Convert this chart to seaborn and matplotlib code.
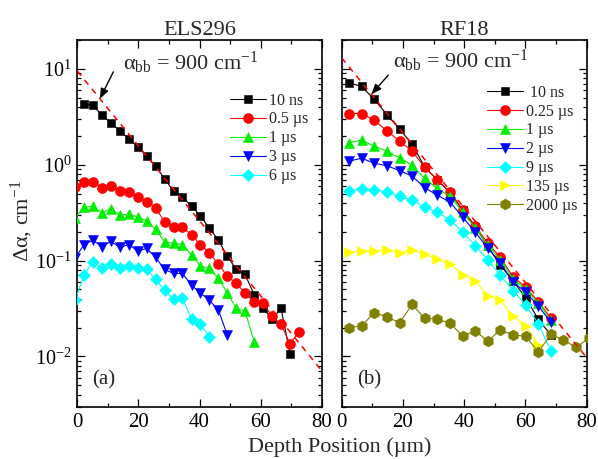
import numpy as np
import pandas as pd
import seaborn as sns
import matplotlib
matplotlib.use("Agg")
import matplotlib.pyplot as plt
from matplotlib.ticker import LogLocator, MultipleLocator, NullFormatter

# ---------------- data ----------------
# depth grid (um) of the ELS296 scan
els_x = [-0.7, 2.2, 5.1, 8.1, 11.0, 13.9, 16.9, 19.8, 22.7, 25.6, 28.6, 31.5, 34.4,
         37.4, 40.3, 43.2, 46.2, 49.1, 52.0, 54.9, 57.9, 60.8, 63.7, 66.7, 69.6, 72.5]

els_10ns = [4.27, 4.17, 3.28, 2.73, 2.24, 1.87, 1.53, 1.23, 0.965, 0.711, 0.529, 0.455,
            0.372, 0.290, 0.219, 0.163, 0.111, 0.0813, 0.0716, 0.0441, 0.0321, 0.0245,
            0.0316, 0.0107]
els_05us = [0.587, 0.657, 0.657, 0.573, 0.597, 0.529, 0.513, 0.462, 0.413, 0.355, 0.253,
            0.225, 0.225, 0.184, 0.147, 0.121, 0.0917, 0.0688, 0.0577, 0.046, 0.0368,
            0.0362, 0.0263, 0.0217, 0.0136, 0.0178]
els_1us = [0.280, 0.358, 0.369, 0.314, 0.349, 0.297, 0.305, 0.284, 0.259, 0.211, 0.157,
           0.151, 0.147, 0.114, 0.0874, 0.0827, 0.0651, 0.046, 0.0317, 0.0297, 0.0142]
els_3us = [0.106, 0.147, 0.163, 0.139, 0.159, 0.137, 0.147, 0.125, 0.134, 0.108, 0.0807,
           0.0734, 0.0734, 0.0554, 0.0457, 0.0386, 0.0304, 0.0167]
els_6us = [0.0386, 0.0704, 0.0974, 0.0827, 0.0917, 0.0827, 0.0874, 0.0827, 0.0813, 0.064,
           0.0491, 0.0393, 0.0403, 0.0245, 0.0217, 0.016]

# depth grid (um) of the RF18 scan
rf_x = [2.4, 6.5, 10.6, 14.8, 18.9, 23.0, 27.1, 31.2, 35.4, 39.5, 43.6, 47.7, 51.8,
        56.0, 60.1, 64.2, 68.3, 72.4, 76.6, 80.7]

rf_10ns = [7.16, 6.55, 4.82, 3.32, 2.35, 1.64, 0.942, 0.697, 0.507, 0.335, 0.225, 0.141,
           0.0895, 0.061, 0.0409, 0.0243, 0.0167]
rf_025us = [3.42, 3.42, 2.91, 2.25, 1.77, 1.38, 0.942, 0.698, 0.517, 0.340, 0.229, 0.152,
            0.108, 0.0671, 0.0528, 0.0373, 0.0251]
rf_1us = [1.70, 1.80, 1.56, 1.38, 1.18, 0.988, 0.718, 0.565, 0.469, 0.320, 0.218, 0.145,
          0.101, 0.064, 0.0503, 0.0360, 0.0239]
rf_2us = [1.088, 1.17, 1.036, 0.976, 0.866, 0.759, 0.575, 0.481, 0.406, 0.284, 0.198,
          0.135, 0.094, 0.0595, 0.0468, 0.0335, 0.0228]
rf_9us = [0.535, 0.559, 0.548, 0.520, 0.469, 0.426, 0.360, 0.320, 0.264, 0.200, 0.143,
          0.1016, 0.0704, 0.0485, 0.0343, 0.0219, 0.0114]
rf_135us = [0.123, 0.125, 0.126, 0.130, 0.121, 0.130, 0.116, 0.1026, 0.0917, 0.0713,
            0.061, 0.0431, 0.0384, 0.0261, 0.0207, 0.0132]
rf_2000us = [0.0199, 0.0208, 0.0285, 0.0259, 0.0224, 0.0348, 0.0249, 0.0245, 0.0221,
             0.0163, 0.0185, 0.0144, 0.0189, 0.0167, 0.0162, 0.0111, 0.0170, 0.0148,
             0.0124, 0.0155]

# band-to-band absorption fit: A * exp(-alpha_bb * depth)
alpha_bb = 900.0          # cm^-1
fit_amp_els = 9.5
fit_amp_rf = 13.0

els_series = [
    ("10 ns", els_x[1:1 + len(els_10ns)], els_10ns, "black", "s"),
    ("0.5 \u00b5s", els_x[:len(els_05us)], els_05us, "#ff0000", "o"),
    ("1 \u00b5s", els_x[:len(els_1us)], els_1us, "#00ee00", "^"),
    ("3 \u00b5s", els_x[:len(els_3us)], els_3us, "#0000ff", "v"),
    ("6 \u00b5s", els_x[:len(els_6us)], els_6us, "#00ffff", "D"),
]
rf_series = [
    (" 10 ns", rf_x[:len(rf_10ns)], rf_10ns, "black", "s"),
    ("0.25 \u00b5s", rf_x[:len(rf_025us)], rf_025us, "#ff0000", "o"),
    ("1 \u00b5s", rf_x[:len(rf_1us)], rf_1us, "#00ee00", "^"),
    ("2 \u00b5s", rf_x[:len(rf_2us)], rf_2us, "#0000ff", "v"),
    ("9 \u00b5s", rf_x[:len(rf_9us)], rf_9us, "#00ffff", "D"),
    ("135 \u00b5s", rf_x[:len(rf_135us)], rf_135us, "#ffff00", ">"),
    ("2000 \u00b5s", rf_x[:len(rf_2000us)], rf_2000us, "#808000", "h"),
]
marker_size = {"s": 6.3, "o": 7.2, "^": 7.6, "v": 7.6, "D": 6.6, ">": 7.6, "h": 7.8}

# ---------------- style ----------------
sns.set_theme(style="white")
plt.rcParams['font.family'] = ['Liberation Serif', 'DejaVu Serif']
plt.rcParams['mathtext.fontset'] = 'custom'
plt.rcParams['mathtext.rm'] = 'Liberation Serif'
plt.rcParams['mathtext.it'] = 'Liberation Serif:italic'
plt.rcParams['mathtext.bf'] = 'Liberation Serif:bold'

fig = plt.figure(figsize=(5.98, 4.59), dpi=100)
W, H = 598.0, 459.0
bottom_px, top_px = 406.5, 40.0
axL = fig.add_axes([77.3 / W, 1 - bottom_px / H, 244.4 / W, (bottom_px - top_px) / H])
axR = fig.add_axes([341.7 / W, 1 - bottom_px / H, 245.0 / W, (bottom_px - top_px) / H])


def fit_curve(amp, depth_um):
    return amp * np.exp(-alpha_bb * np.asarray(depth_um) * 1e-4)


def draw_panel(ax, series, amp, title, tag, leg_anchor, arrow_tail, arrow_x, text_xy):
    ax.set_yscale("log")
    depth = np.linspace(0, 80, 200)
    ax.plot(depth, fit_curve(amp, depth), color="#ff0000", lw=1.1,
            dashes=(4, 3.5), zorder=4, label="_nolegend_")
    for lab, xs, ys, col, mk in series:
        df = pd.DataFrame({"depth": xs, "da": ys})
        sns.lineplot(data=df, x="depth", y="da", ax=ax, color=col, marker=mk,
                     markersize=marker_size[mk], markeredgecolor=col,
                     markeredgewidth=0.4, linewidth=0.8, label=lab,
                     estimator=None, sort=False, zorder=3)
    ax.set_xlim(0, 80)
    ax.set_ylim(0.003, 20)
    ax.set_xlabel("")
    ax.set_ylabel("")
    ax.xaxis.set_major_locator(MultipleLocator(20))
    ax.xaxis.set_minor_locator(MultipleLocator(10))
    ax.yaxis.set_major_locator(LogLocator(base=10, numticks=10))
    ax.yaxis.set_minor_locator(LogLocator(base=10, subs=np.arange(2, 10), numticks=10))
    ax.yaxis.set_minor_formatter(NullFormatter())
    ax.tick_params(which="both", direction="in", top=True, right=True,
                   bottom=True, left=True, width=0.9, colors="black")
    ax.tick_params(which="major", length=5.5, labelsize=15, pad=5)
    ax.tick_params(axis="y", which="major", labelsize=14.5, pad=4)
    ax.tick_params(which="minor", length=3)
    for sp in ax.spines.values():
        sp.set_linewidth(1.2)
        sp.set_color("black")
    ax.set_title(title, fontsize=16, pad=2)
    ax.text(0.062, 0.072, tag, transform=ax.transAxes, fontsize=15,
            ha="left", va="center")
    h, l = ax.get_legend_handles_labels()
    ax.legend(h, l, loc="upper left", bbox_to_anchor=leg_anchor, frameon=False,
              fontsize=11.5, handlelength=2.25, handletextpad=0.2,
              labelspacing=0.18, borderpad=0, borderaxespad=0, numpoints=1)
    tip = (arrow_x, float(fit_curve(amp, arrow_x)))
    ax.annotate("", xy=tip, xytext=arrow_tail,
                arrowprops=dict(arrowstyle="-|>,head_length=0.5,head_width=0.2",
                                color="black", lw=1.0, shrinkA=0, shrinkB=0))
    ax.text(text_xy[0], text_xy[1], r"$\mathrm{\alpha}_{\mathrm{bb}}$ = 900 cm$^{-1}$",
            fontsize=16, ha="left", va="center", zorder=6)


draw_panel(axL, els_series, fit_amp_els, "ELS296", "(a)", (0.625, 0.8565),
           (11.8, 9.3), 7.4, (15.0, 11.4))
draw_panel(axR, rf_series, fit_amp_rf, "RF18", "(b)", (0.593, 0.878),
           (15.2, 8.6), 9.7, (16.8, 12.0))
axR.tick_params(axis="y", which="both", labelleft=False)

fig.text(22 / W, 1 - 221 / H, r"$\Delta\mathrm{\alpha}$, cm$^{-1}$", rotation=90,
         fontsize=16, ha="center", va="center")
fig.text(340 / W, 1 - 447 / H, "Depth Position (\u00b5m)", fontsize=16,
         ha="center", va="center")

fig.savefig("out.png", dpi=100)
